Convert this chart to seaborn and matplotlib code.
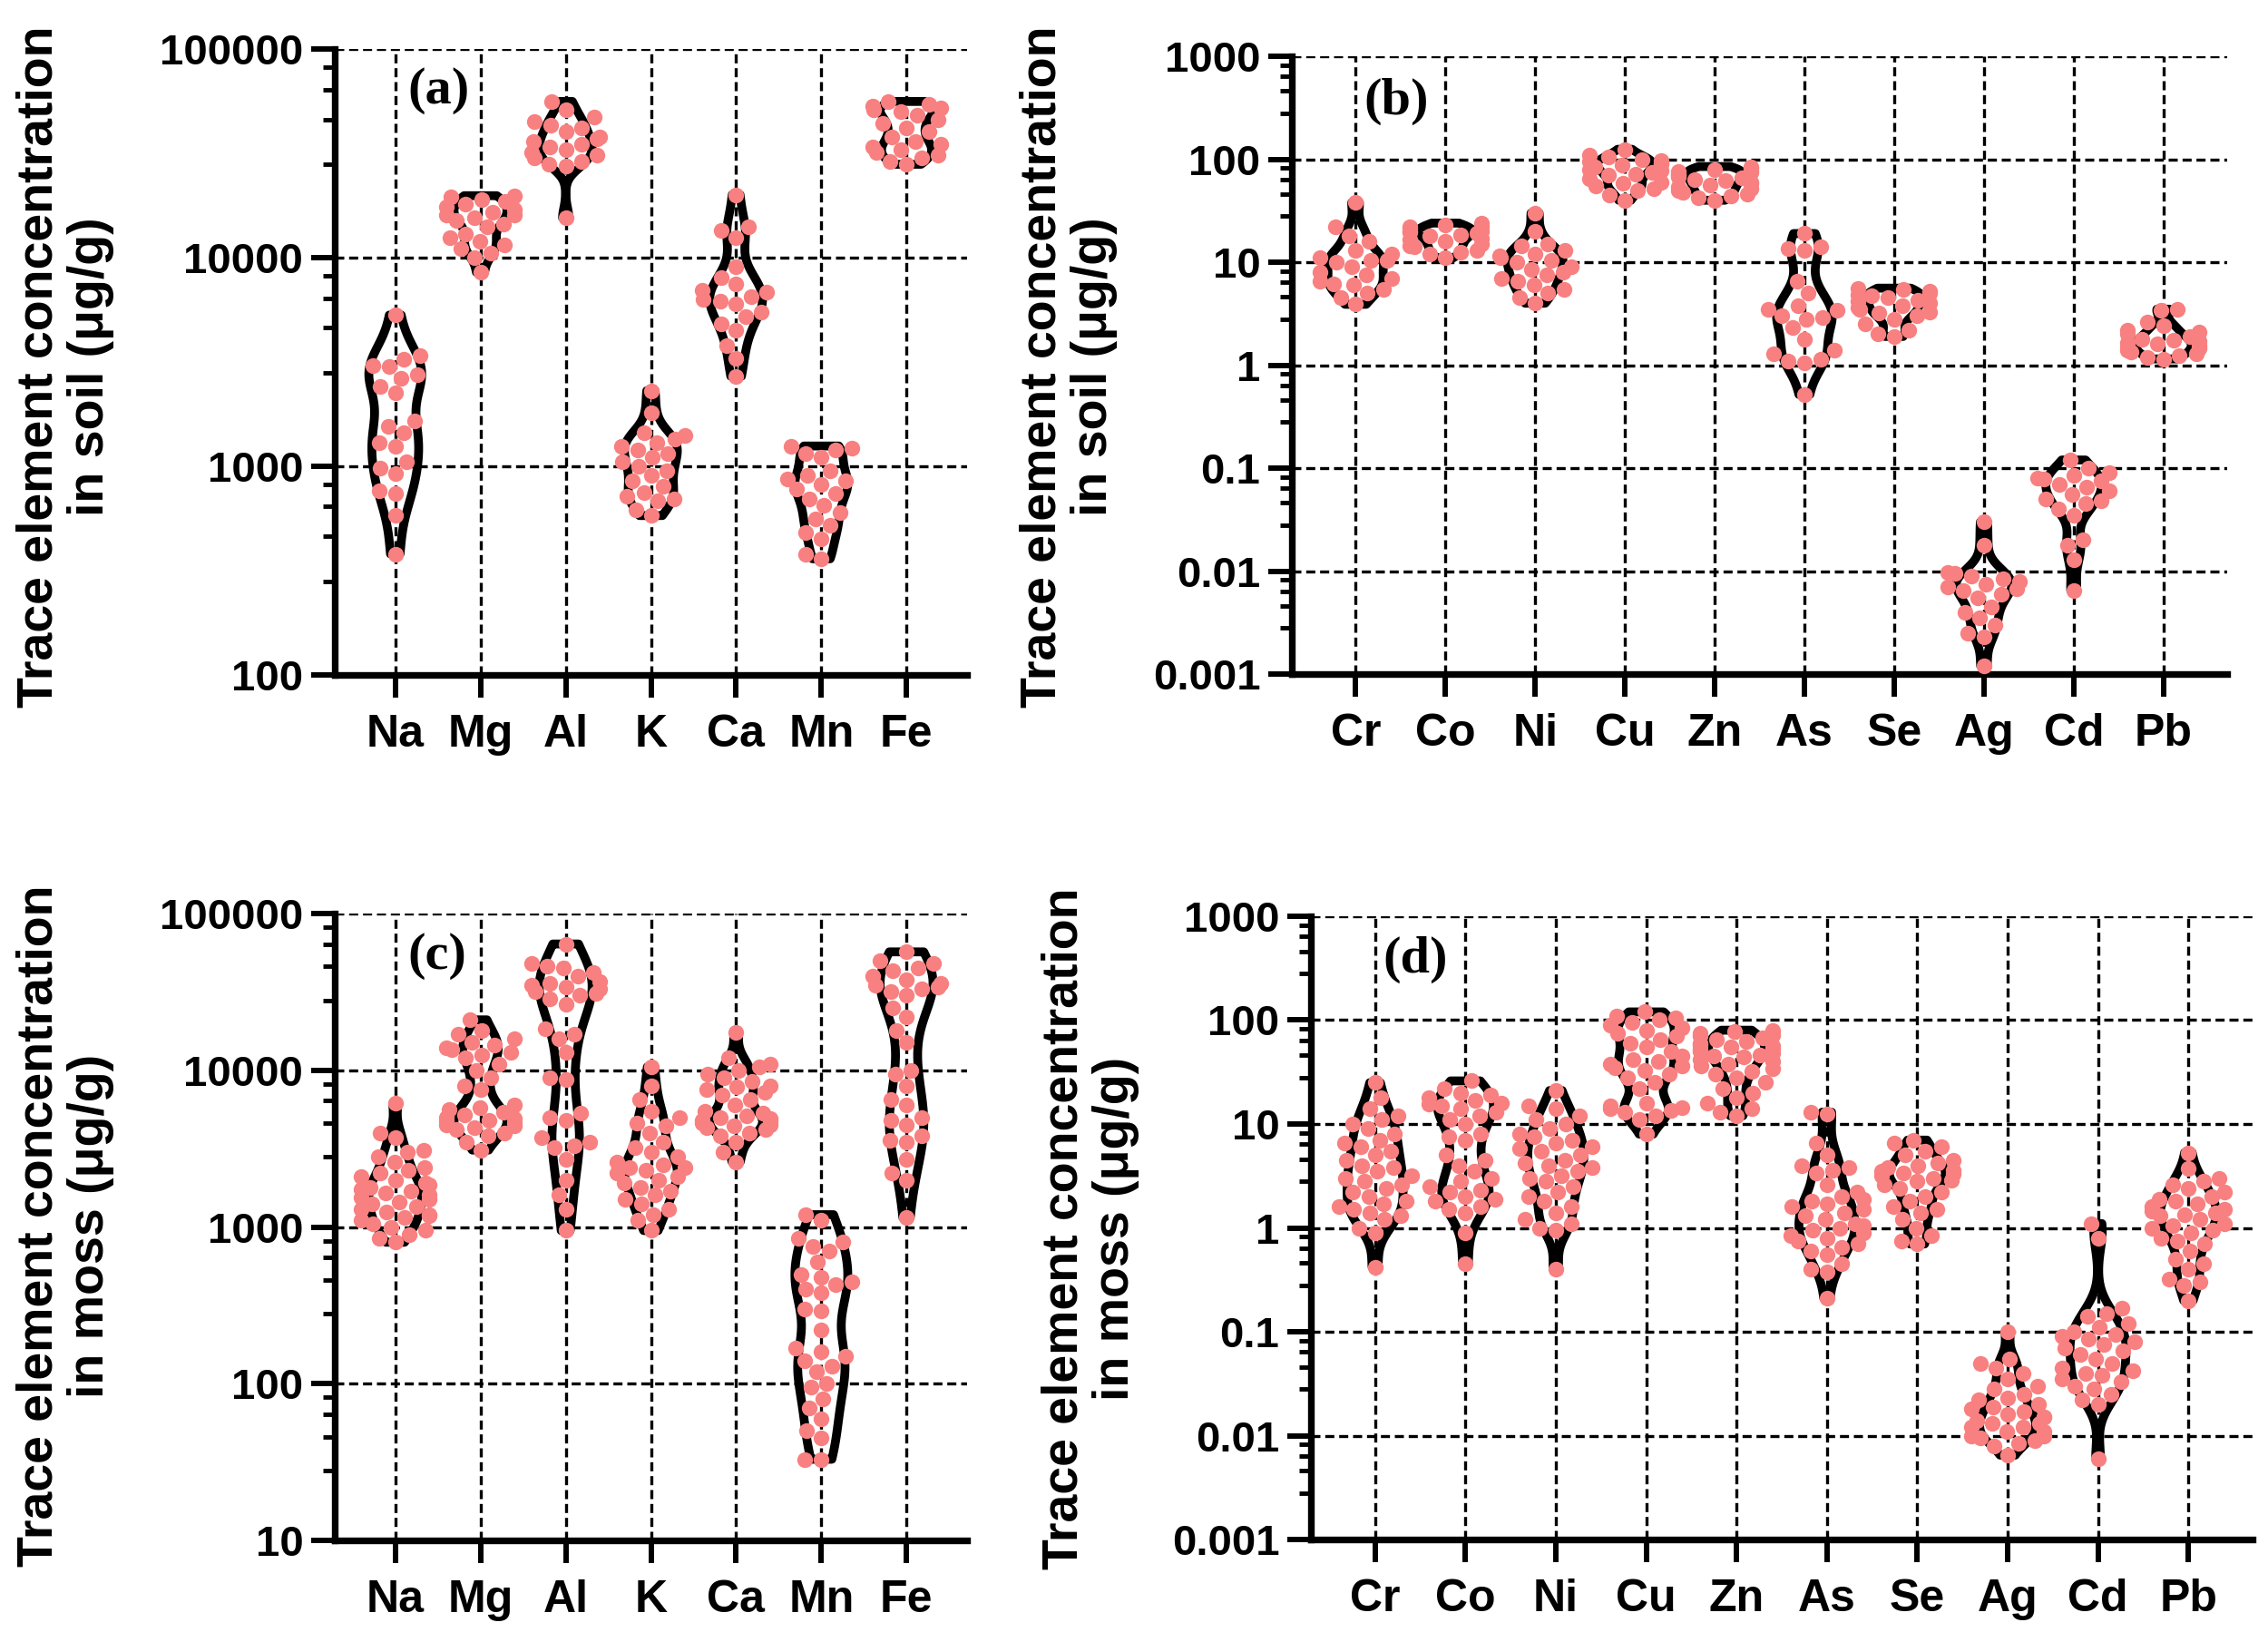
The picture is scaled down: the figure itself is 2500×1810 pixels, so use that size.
import numpy as np
import pandas as pd
import matplotlib
matplotlib.use("Agg")
import matplotlib.pyplot as plt
import seaborn as sns
from matplotlib.ticker import FixedLocator, FixedFormatter, NullFormatter, LogLocator

# ---------------- data ----------------
major_elements = ["Na", "Mg", "Al", "K", "Ca", "Mn", "Fe"]
trace_elements = ["Cr", "Co", "Ni", "Cu", "Zn", "As", "Se", "Ag", "Cd", "Pb"]

# soil, major elements (ug/g)
soil_Na = [5300, 3400, 3250, 3050, 3000, 2750, 2650, 2400, 2250, 1650, 1550, 1450, 1300, 1250, 1050, 980, 920, 760, 740, 580, 380]
soil_Mg = [19800, 19500, 19000, 18500, 18000, 17500, 17000, 16500, 16000, 16000, 15500, 15000, 14500, 14000, 13000, 12500, 12000, 11500, 11000, 10500, 10000, 8500]
soil_Al = [56000, 51000, 47000, 45000, 43000, 42000, 40000, 38000, 37000, 36000, 35000, 34000, 33000, 32000, 31000, 30000, 29000, 28000, 27500, 15500]
soil_K = [2300, 1800, 1450, 1400, 1350, 1300, 1250, 1200, 1150, 1100, 1050, 1000, 950, 900, 850, 800, 750, 720, 700, 680, 620, 580]
soil_Ca = [20000, 14000, 13500, 12500, 9000, 8000, 7500, 7000, 6800, 6500, 6300, 6200, 6000, 5500, 5200, 4800, 4500, 3800, 3300, 2700]
soil_Mn = [1250, 1220, 1200, 1150, 1100, 950, 900, 870, 850, 820, 780, 740, 700, 650, 600, 560, 520, 480, 450, 380, 360]
soil_Fe = [56000, 54000, 53000, 52000, 51000, 50000, 48000, 46000, 44000, 42000, 40000, 38000, 36000, 35000, 34000, 33000, 32000, 31000, 30000, 29000, 28000]

# soil, trace elements (ug/g)
soil_Cr = [38, 22, 18, 16, 13, 12, 11, 10.5, 10.5, 10, 9, 8, 7.5, 7, 6.5, 6.2, 6, 5.5, 5, 4.5, 3.9]
soil_Co = [24, 23, 22, 22, 21, 20, 20, 19.5, 19, 18.5, 18, 17, 16.5, 16, 15, 14.5, 14, 13, 12.5, 12, 11]
soil_Ni = [30, 20, 15, 14.5, 13, 12, 11.5, 11, 10.5, 10, 9, 8.5, 8, 7.5, 7, 6.5, 6, 5.5, 5, 4.5, 4]
soil_Cu = [125, 110, 105, 100, 98, 95, 92, 90, 88, 85, 80, 78, 75, 72, 70, 65, 60, 58, 55, 52, 50, 45, 40]
soil_Zn = [85, 82, 80, 78, 76, 74, 72, 70, 68, 66, 64, 62, 60, 58, 56, 54, 52, 50, 48, 46, 44, 42, 40]
soil_As = [19, 14, 13.5, 13, 6.5, 5, 3.8, 3.5, 3.4, 3, 2.9, 2.8, 2.3, 1.8, 1.4, 1.3, 1.15, 1.1, 1.05, 0.52]
soil_Se = [5.6, 5.4, 5.2, 5, 4.8, 4.7, 4.5, 4.3, 4.2, 4, 3.8, 3.6, 3.5, 3.3, 3.2, 3, 2.8, 2.5, 2.2, 2, 1.9]
soil_Ag = [0.03, 0.018, 0.0098, 0.0095, 0.009, 0.0085, 0.008, 0.0075, 0.007, 0.0068, 0.0065, 0.006, 0.0055, 0.0045, 0.004, 0.0035, 0.003, 0.0025, 0.0023, 0.0012]
soil_Cd = [0.12, 0.1, 0.09, 0.085, 0.08, 0.078, 0.075, 0.07, 0.065, 0.06, 0.055, 0.05, 0.048, 0.045, 0.04, 0.035, 0.02, 0.018, 0.013, 0.0065]
soil_Pb = [3.5, 3.4, 2.6, 2.4, 2.2, 2.1, 2, 1.9, 1.8, 1.75, 1.7, 1.65, 1.6, 1.55, 1.5, 1.45, 1.4, 1.35, 1.3, 1.25, 1.2, 1.15]

# moss, major elements (ug/g)
moss_Na = [6200, 4000, 3700, 3100, 3000, 2800, 2600, 2400, 2300, 2200, 2100, 2000, 1900, 1850, 1800, 1750, 1700, 1650, 1600, 1550, 1500, 1450, 1400, 1350, 1300, 1250, 1200, 1180, 1150, 1100, 1050, 1000, 950, 900, 850, 800]
moss_Mg = [21000, 18000, 17000, 16000, 15000, 14500, 14000, 13500, 13000, 12500, 12000, 11000, 10000, 9000, 8000, 7500, 6000, 5800, 5600, 5400, 5200, 5000, 4900, 4800, 4700, 4600, 4500, 4400, 4300, 4200, 4000, 3800, 3500, 3100]
moss_Al = [64000, 48000, 46000, 45000, 42000, 40000, 37000, 36000, 35000, 34000, 33000, 32000, 31000, 30000, 28500, 26500, 18500, 17000, 16000, 13000, 9000, 8700, 5300, 5000, 4800, 3700, 3500, 3300, 3200, 2700, 2000, 1600, 1300, 950]
moss_K = [10500, 8000, 6500, 5500, 5000, 4600, 4400, 4000, 3500, 3200, 3000, 2800, 2600, 2500, 2400, 2400, 2300, 2200, 2100, 2000, 1900, 1800, 1700, 1600, 1500, 1400, 1300, 1200, 1100, 950]
moss_Ca = [17500, 12000, 11000, 10500, 10000, 9500, 9000, 8500, 8000, 7800, 7500, 7200, 7000, 6500, 6000, 5500, 5300, 5100, 5000, 4900, 4800, 4700, 4600, 4500, 4400, 4300, 4200, 4000, 3800, 3500, 3000, 2600]
moss_Mn = [1200, 1100, 850, 800, 750, 700, 600, 500, 480, 450, 430, 400, 380, 300, 290, 220, 170, 160, 150, 140, 130, 120, 100, 95, 80, 70, 60, 50, 45, 33, 33]
moss_Fe = [57000, 50000, 48000, 45000, 43000, 40000, 38000, 36000, 35000, 34000, 33000, 32000, 30000, 25000, 22000, 18000, 15000, 10000, 9500, 8000, 6500, 6000, 5000, 4800, 4500, 3800, 3600, 3500, 2700, 2200, 2000, 1150]

# moss, trace elements (ug/g)
moss_Cr = [25, 18, 14, 12, 11, 10, 9, 8, 7, 6.5, 6, 5.5, 5, 4.5, 4, 3.8, 3.5, 3.2, 3, 2.8, 2.6, 2.4, 2.2, 2, 1.8, 1.7, 1.6, 1.5, 1.4, 1.3, 1.2, 1.0, 0.9, 0.42]
moss_Co = [26, 22, 20, 19, 18, 17, 16, 15.5, 15, 14, 13, 12, 11, 10, 8, 7.5, 7, 5, 4.5, 4, 3.5, 3, 2.8, 2.5, 2.3, 2.2, 2, 1.9, 1.8, 1.6, 1.5, 1.4, 0.9, 0.45]
moss_Ni = [21, 15, 14, 12, 11, 10, 9, 8, 7.5, 7, 6.5, 6, 5.8, 5.5, 5, 4.5, 4.2, 4, 3.8, 3.5, 3.2, 3, 2.8, 2.5, 2.2, 2, 1.8, 1.6, 1.4, 1.2, 1.1, 1, 0.95, 0.4]
moss_Cu = [120, 110, 105, 100, 95, 90, 85, 80, 75, 70, 65, 60, 55, 50, 45, 42, 40, 38, 36, 35, 33, 30, 28, 25, 22, 16, 15, 14.5, 14, 13.5, 13, 12, 11, 8]
moss_Zn = [80, 78, 75, 72, 70, 68, 65, 62, 60, 58, 56, 55, 53, 52, 50, 48, 46, 45, 44, 42, 40, 38, 36, 34, 32, 30, 28, 25, 22, 20, 18, 16, 14, 13, 12]
moss_As = [13, 12.5, 6.5, 5, 4, 3.8, 3.6, 3.4, 2.6, 2.2, 2, 1.9, 1.8, 1.7, 1.6, 1.5, 1.4, 1.3, 1.2, 1.1, 1.05, 1, 0.95, 0.9, 0.85, 0.8, 0.75, 0.7, 0.65, 0.6, 0.55, 0.45, 0.4, 0.38, 0.21]
moss_Se = [7, 6.5, 6, 5.5, 5, 4.5, 4.2, 4, 3.8, 3.6, 3.5, 3.4, 3.3, 3.2, 3, 2.9, 2.8, 2.6, 2.4, 2.2, 2, 1.8, 1.6, 1.5, 1.4, 1.2, 1, 0.85, 0.75, 0.7]
moss_Ag = [0.1, 0.055, 0.05, 0.045, 0.04, 0.035, 0.03, 0.028, 0.025, 0.023, 0.022, 0.02, 0.019, 0.018, 0.017, 0.016, 0.015, 0.015, 0.014, 0.013, 0.013, 0.012, 0.012, 0.011, 0.011, 0.01, 0.01, 0.0095, 0.009, 0.0085, 0.008, 0.0065]
moss_Cd = [1.1, 0.8, 0.17, 0.15, 0.14, 0.12, 0.11, 0.1, 0.095, 0.09, 0.085, 0.08, 0.075, 0.07, 0.065, 0.06, 0.055, 0.05, 0.045, 0.042, 0.04, 0.038, 0.035, 0.033, 0.03, 0.028, 0.025, 0.022, 0.02, 0.006]
moss_Pb = [5.3, 3.7, 3, 2.8, 2.6, 2.4, 2.2, 2, 1.9, 1.8, 1.7, 1.6, 1.5, 1.45, 1.4, 1.35, 1.3, 1.2, 1.1, 1.05, 1, 0.95, 0.9, 0.8, 0.75, 0.7, 0.6, 0.5, 0.45, 0.4, 0.32, 0.3, 0.28, 0.2]

major_ticks = [100, 1000, 10000, 100000]
major_ticklabels = ["100", "1000", "10000", "100000"]
moss_major_ticks = [10, 100, 1000, 10000, 100000]
moss_major_ticklabels = ["10", "100", "1000", "10000", "100000"]
trace_ticks = [0.001, 0.01, 0.1, 1, 10, 100, 1000]
trace_ticklabels = ["0.001", "0.01", "0.1", "1", "10", "100", "1000"]

ylabel_soil = "Trace element concentration\nin soil (\u03bcg/g)"
ylabel_moss = "Trace element concentration\nin moss (\u03bcg/g)"

# ---------------- style ----------------
sns.set_theme(style="white")
plt.rcParams["font.family"] = ["Liberation Sans", "DejaVu Sans"]
plt.rcParams["font.weight"] = "bold"

PINK = "#F88080"
MINOR_SUBS = [2.8, 4.6, 6.4, 8.2]


def long_df(elements, lists):
    rows = []
    for el, vals in zip(elements, lists):
        for v in vals:
            rows.append((el, v))
    return pd.DataFrame(rows, columns=["element", "value"])


def draw_panel(ax, df, order, ylim, ticks, ticklabels, tag, tag_xy):
    sns.violinplot(data=df, x="element", y="value", order=order, log_scale=True,
                   cut=0, inner=None, fill=False, color="black", linewidth=7,
                   density_norm="width", width=0.62, bw_adjust=0.7, ax=ax)
    sns.swarmplot(data=df, x="element", y="value", order=order, log_scale=True,
                  color=PINK, size=12.5, linewidth=0, ax=ax, zorder=3)
    ax.set_yscale("log")
    ax.set_ylim(*ylim)
    ax.set_xlim(-0.71, len(order) - 1 + 0.71)
    ax.yaxis.set_major_locator(FixedLocator(ticks))
    ax.yaxis.set_major_formatter(FixedFormatter(ticklabels))
    ax.yaxis.set_minor_locator(LogLocator(base=10, subs=MINOR_SUBS, numticks=20))
    ax.yaxis.set_minor_formatter(NullFormatter())
    ax.set_xlabel("")
    ax.set_ylabel("")
    for s in ["top", "right"]:
        ax.spines[s].set_visible(False)
    for s in ["left", "bottom"]:
        ax.spines[s].set_linewidth(5.3)
        ax.spines[s].set_color("black")
        ax.spines[s].set_capstyle("projecting")
    ax.set_axisbelow(True)
    ax.grid(True, which="major", axis="both", color="black",
            linestyle=(0, (3.0, 1.6)), linewidth=2.4)
    ax.tick_params(axis="y", which="major", left=True, length=19, width=4.3,
                   pad=6, labelsize=34, color="black", labelcolor="black")
    ax.tick_params(axis="y", which="minor", left=True, length=9.5, width=3.5,
                   color="black")
    ax.tick_params(axis="x", which="major", bottom=True, length=18, width=4.3,
                   pad=13, labelsize=36, color="black", labelcolor="black")
    for lab in ax.get_xticklabels() + ax.get_yticklabels():
        lab.set_fontweight("bold")
    ax.text(tag_xy[0], tag_xy[1], tag, transform=ax.transAxes,
            family=["Liberation Serif", "DejaVu Serif"], fontsize=42,
            fontweight="bold", ha="center", va="center", color="black")


fig = plt.figure(figsize=(25, 18.1), dpi=100)
fig.patch.set_facecolor("white")

ax_a = fig.add_axes([0.1476, 0.5890, 0.2788, 0.3812])
ax_b = fig.add_axes([0.5696, 0.5895, 0.4124, 0.3762])
ax_c = fig.add_axes([0.1476, 0.0618, 0.2788, 0.3818])
ax_d = fig.add_axes([0.5780, 0.0624, 0.4152, 0.3796])

df_a = long_df(major_elements, [soil_Na, soil_Mg, soil_Al, soil_K, soil_Ca, soil_Mn, soil_Fe])
df_b = long_df(trace_elements, [soil_Cr, soil_Co, soil_Ni, soil_Cu, soil_Zn, soil_As, soil_Se, soil_Ag, soil_Cd, soil_Pb])
df_c = long_df(major_elements, [moss_Na, moss_Mg, moss_Al, moss_K, moss_Ca, moss_Mn, moss_Fe])
df_d = long_df(trace_elements, [moss_Cr, moss_Co, moss_Ni, moss_Cu, moss_Zn, moss_As, moss_Se, moss_Ag, moss_Cd, moss_Pb])

draw_panel(ax_a, df_a, major_elements, (100, 100000), major_ticks, major_ticklabels, "(a)", (0.164, 0.933))
draw_panel(ax_b, df_b, trace_elements, (0.001, 1000), trace_ticks, trace_ticklabels, "(b)", (0.1115, 0.927))
draw_panel(ax_c, df_c, major_elements, (10, 100000), moss_major_ticks, moss_major_ticklabels, "(c)", (0.162, 0.932))
draw_panel(ax_d, df_d, trace_elements, (0.001, 1000), trace_ticks, trace_ticklabels, "(d)", (0.111, 0.930))

lab_kw = dict(rotation=90, ha="center", va="center", fontsize=40,
              fontweight="bold", linespacing=1.1, multialignment="center", color="black")
fig.text(72 / 2500, 1 - 404 / 1810, ylabel_soil, **lab_kw)
fig.text(1178 / 2500, 1 - 404 / 1810, ylabel_soil, **lab_kw)
fig.text(72 / 2500, 1 - 1351 / 1810, ylabel_moss, **lab_kw)
fig.text(1202 / 2500, 1 - 1354 / 1810, ylabel_moss, **lab_kw)

fig.savefig("out.png", dpi=100, facecolor="white")
